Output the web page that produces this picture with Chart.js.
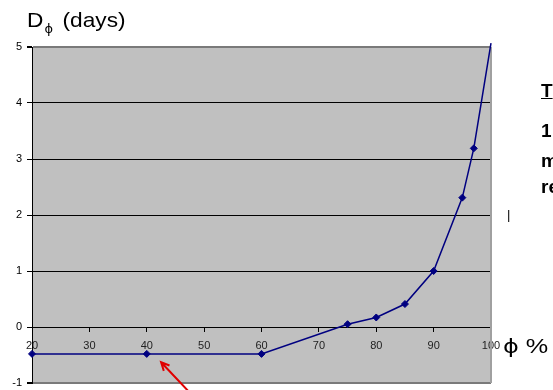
<!DOCTYPE html>
<html>
<head>
<meta charset="utf-8">
<script src="https://cdn.jsdelivr.net/npm/chart.js@4/dist/chart.umd.min.js"></script>
<style>
  html, body { margin: 0; padding: 0; background: #fff; overflow: hidden; }
  #wrap { position: relative; width: 553px; height: 390px; overflow: hidden; font-family: "Liberation Sans", Arial, sans-serif; }
  canvas { position: absolute; left: 0; top: 0; }
  .lbl { position: absolute; white-space: nowrap; color: #000; line-height: 1; transform-origin: 0 0; }
  .side { position: absolute; left: 541px; font-weight: bold; font-size: 19px; white-space: nowrap; line-height: 1; }
</style>
</head>
<body>
<div id="wrap">
  <canvas id="chart" width="553" height="390"></canvas>
  <div class="lbl" style="left:27px; top:9px; font-size:21px; transform: scaleX(1.08);">D<span style="font-size:12px; position:relative; top:6px; margin-left:1px; margin-right:3px; font-family:'DejaVu Sans',sans-serif;">ϕ</span> (days)</div>
  <div class="lbl" style="left:503px; top:335px; font-size:21px; transform: scaleX(1.2);"><span style="font-family:'DejaVu Sans',sans-serif; font-size:20px;">ϕ</span> %</div>
  <div class="side" style="top:81px; text-decoration: underline;">T</div>
  <div class="side" style="top:121px;">1</div>
  <div class="side" style="top:151px;">m</div>
  <div class="side" style="top:177px;">re</div>
  <div class="lbl" style="left:507px; top:208px; font-size:13px;">|</div>
</div>
<script>
// Relative humidity ϕ (%) and corresponding D_ϕ (days)
const phi  = [20, 40, 60, 75, 80, 85, 90, 95, 97, 100];
const days = [-0.48, -0.48, -0.48, 0.05, 0.17, 0.41, 1.0, 2.31, 3.19, 5.07];

const xTicks = { min: 20, max: 100, step: 10 };
const yTicks = { min: -1, max: 5, step: 1 };

Chart.defaults.font.family = '"Liberation Sans", Arial, sans-serif';
Chart.defaults.color = '#000';

// grey plot background, right-hand frame and the red pointer arrow
const frame = {
  id: 'frame',
  beforeDraw(chart) {
    const { ctx, chartArea: a } = chart;
    ctx.save();
    ctx.fillStyle = '#c0c0c0';
    ctx.fillRect(a.left, a.top, a.right - a.left, a.bottom - a.top);
    ctx.restore();
  },
  beforeDatasetsDraw(chart) {
    const { ctx, chartArea: a } = chart;
    ctx.save();
    ctx.strokeStyle = '#a0a0a0';
    ctx.lineWidth = 2;
    ctx.beginPath();
    ctx.moveTo(a.right, a.top);
    ctx.lineTo(a.right, a.bottom);
    ctx.stroke();
    ctx.restore();
  },
  afterDraw(chart) {
    const { ctx, scales } = chart;
    const tx = scales.x.getPixelForValue(42.5);
    const ty = scales.y.getPixelForValue(-0.63);
    const fx = tx + 34, fy = ty + 36;
    const ang = Math.atan2(ty - fy, tx - fx);
    ctx.save();
    ctx.strokeStyle = '#e00000';
    ctx.lineWidth = 2;
    ctx.beginPath();
    ctx.moveTo(fx, fy);
    ctx.lineTo(tx, ty);
    const h = 9, w = 0.45;
    ctx.moveTo(tx - h * Math.cos(ang - w), ty - h * Math.sin(ang - w));
    ctx.lineTo(tx, ty);
    ctx.lineTo(tx - h * Math.cos(ang + w), ty - h * Math.sin(ang + w));
    ctx.stroke();
    ctx.restore();
  }
};

new Chart(document.getElementById('chart'), {
  type: 'line',
  data: {
    datasets: [{
      data: phi.map((p, i) => ({ x: p, y: days[i] })),
      borderColor: '#000080',
      backgroundColor: '#000080',
      borderWidth: 1.5,
      pointStyle: 'rectRot',
      pointRadius: ctx => (ctx.dataIndex === phi.length - 1 ? 0 : 3.5),
      pointBorderWidth: 1,
      tension: 0,
      fill: false,
      clip: false
    }]
  },
  options: {
    responsive: false,
    animation: false,
    layout: { padding: { top: 47, right: 62, bottom: 7, left: 0 } },
    plugins: { legend: { display: false }, tooltip: { enabled: false } },
    scales: {
      x: {
        type: 'linear',
        position: { y: 0 },
        min: xTicks.min, max: xTicks.max,
        afterFit(scale) { scale.height = 0; scale.paddingLeft = 0; scale.paddingRight = 0; },
        ticks: { stepSize: xTicks.step, autoSkip: false, maxRotation: 0, padding: 8, font: { size: 11 }, color: '#222' },
        grid: { drawOnChartArea: false, drawTicks: true, tickLength: 4, tickColor: '#000' },
        border: { color: '#000', width: 1 }
      },
      y: {
        type: 'linear',
        position: 'left',
        min: yTicks.min, max: yTicks.max,
        afterFit(scale) { scale.width = 32; scale.paddingTop = 0; scale.paddingBottom = 0; },
        ticks: { stepSize: yTicks.step, padding: 5, font: { size: 11 }, color: '#000' },
        grid: {
          color: c => (c.tick && (c.tick.value === yTicks.max || c.tick.value === yTicks.min) ? '#7a7a7a' : '#000'),
          lineWidth: c => (c.tick && (c.tick.value === yTicks.max || c.tick.value === yTicks.min) ? 2 : 1),
          tickLength: 5,
          tickColor: '#000'
        },
        border: { color: '#000', width: 1 }
      }
    }
  },
  plugins: [frame]
});
</script>
</body>
</html>
